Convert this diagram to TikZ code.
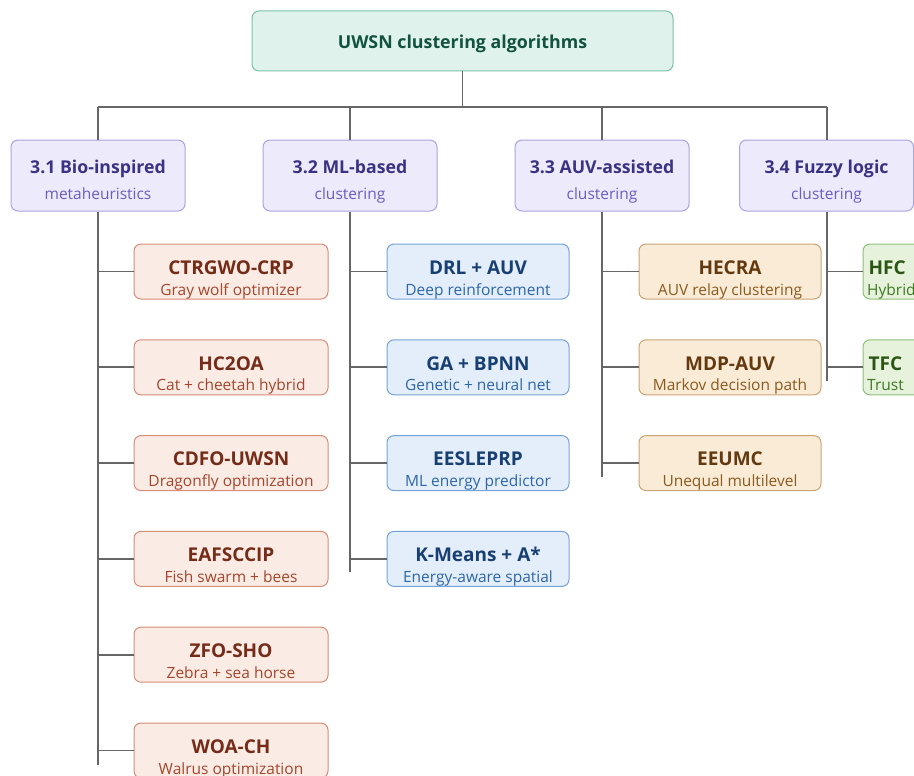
\documentclass[tikz,border=0pt]{standalone}
\usepackage{fontspec}
\setmainfont{Open Sans}
\definecolor{linegray}{HTML}{676767}
\definecolor{rootfill}{HTML}{DFF3EC}
\definecolor{rootdraw}{HTML}{79C2A6}
\definecolor{roottext}{HTML}{12523F}
\definecolor{catfill}{HTML}{EDEBFB}
\definecolor{catdraw}{HTML}{ABA3E3}
\definecolor{cattext}{HTML}{3A3283}
\definecolor{catsub}{HTML}{6A5CC2}
\definecolor{redfill}{HTML}{FAEBE5}
\definecolor{reddraw}{HTML}{D88D78}
\definecolor{redtext}{HTML}{742B17}
\definecolor{redsub}{HTML}{A4462C}
\definecolor{bluefill}{HTML}{E3EEFA}
\definecolor{bluedraw}{HTML}{74A3D8}
\definecolor{bluetext}{HTML}{173F72}
\definecolor{bluesub}{HTML}{2D66A8}
\definecolor{orfill}{HTML}{FAEBD7}
\definecolor{ordraw}{HTML}{C9A474}
\definecolor{ortext}{HTML}{633A10}
\definecolor{orsub}{HTML}{8A5A1E}
\definecolor{grfill}{HTML}{E6F2DC}
\definecolor{grdraw}{HTML}{8FC077}
\definecolor{grtext}{HTML}{2B5514}
\definecolor{grsub}{HTML}{3F7A22}
\tikzset{
  box/.style={rectangle, rounded corners=7pt, line width=1pt, inner sep=0pt},
  rootbox/.style={box, fill=rootfill, draw=rootdraw, minimum width=421pt, minimum height=60pt},
  catbox/.style={box, fill=catfill, draw=catdraw, minimum width=174pt, minimum height=71pt},
  redbox/.style={box, fill=redfill, draw=reddraw, minimum width=194pt, minimum height=55pt},
  bluebox/.style={box, fill=bluefill, draw=bluedraw, minimum width=182pt, minimum height=55pt},
  orbox/.style={box, fill=orfill, draw=ordraw, minimum width=182pt, minimum height=55pt},
  grbox/.style={box, fill=grfill, draw=grdraw, minimum width=182pt, minimum height=55pt},
  ttl/.style={inner sep=0pt, anchor=base, font=\fontsize{19}{22}\selectfont\bfseries},
  sub/.style={inner sep=0pt, anchor=base, font=\fontsize{15.5}{18}\selectfont},
  conn/.style={draw=linegray, line width=1.8pt},
}
\newcommand{\leafbox}[7]{%
  \node[#4] (#1) at (#2,#3) {};
  \node[ttl, text=#5] (#1-t) at ([yshift=-2.8pt]#1.center) {#6};
  \node[sub] (#1-s) at ([yshift=-23.5pt]#1.center) {#7};
}
\begin{document}
\begin{tikzpicture}[x=1pt,y=-1pt]
\useasboundingbox (0,0) rectangle (914,776);
\clip (0,0) rectangle (914,776);
% root
\node[rootbox] (root) at (462.5,41) {};
\node[ttl, text=roottext, font=\fontsize{17.8}{21}\selectfont\bfseries] (root-t) at ([yshift=-7.5pt]root.center) {UWSN clustering algorithms};
% bus
\coordinate (busL) at (98,107);
\coordinate (busR) at (827,107);
% categories
\node[catbox] (c1) at (98,175.5) {};
\node[catbox] (c2) at (350,175.5) {};
\node[catbox] (c3) at (602,175.5) {};
\node[catbox] (c4) at (826.5,175.5) {};
\foreach \n/\a/\b in {c1/3.1 Bio-inspired/metaheuristics, c2/3.2 ML-based/clustering, c3/3.3 AUV-assisted/clustering, c4/3.4 Fuzzy logic/clustering}{
  \node[ttl, text=cattext, font=\fontsize{17.7}{21}\selectfont\bfseries] (\n-t) at ([yshift=2.2pt]\n.center) {\a};
  \node[sub, text=catsub] (\n-s) at ([yshift=-23.5pt]\n.center) {\b};
}
% connectors top
\draw[conn] (root.south) -- (root.south |- busL);
\draw[conn] (busL) -- (busR);
\foreach \n in {c1,c2,c3}{\draw[conn] (\n.north) -- (\n.north |- busL);}
\draw[conn] (busR) -- (busR |- c4.north);
% trunk ends
\coordinate (e1) at (98,765);
\coordinate (e2) at (350,572);
\coordinate (e3) at (602,477);
\coordinate (e4) at (827,381);
\draw[conn] (c1.south) -- (e1);
\draw[conn] (c2.south) -- (e2);
\draw[conn] (c3.south) -- (e3);
\draw[conn] (c1.south -| e4) -- (e4);
% leaves col 1
\leafbox{a1}{231}{271.5}{redbox}{redtext}{CTRGWO-CRP}{\color{redsub}Gray wolf optimizer}
\leafbox{a2}{231}{367.3}{redbox}{redtext}{HC2OA}{\color{redsub}Cat + cheetah hybrid}
\leafbox{a3}{231}{463.1}{redbox}{redtext}{CDFO-UWSN}{\color{redsub}Dragonfly optimization}
\leafbox{a4}{231}{558.9}{redbox}{redtext}{EAFSCCIP}{\color{redsub}Fish swarm + bees}
\leafbox{a5}{231}{654.7}{redbox}{redtext}{ZFO-SHO}{\color{redsub}Zebra + sea horse}
\leafbox{a6}{231}{750.5}{redbox}{redtext}{WOA-CH}{\color{redsub}Walrus optimization}
% col 2
\leafbox{b1}{478}{271.5}{bluebox}{bluetext}{DRL + AUV}{\color{bluesub}Deep reinforcement}
\leafbox{b2}{478}{367.3}{bluebox}{bluetext}{GA + BPNN}{\color{bluesub}Genetic + neural net}
\leafbox{b3}{478}{463.1}{bluebox}{bluetext}{EESLEPRP}{\color{bluesub}ML energy predictor}
\leafbox{b4}{478}{558.9}{bluebox}{bluetext}{K-Means + A*}{\color{bluesub}Energy-aware spatial}
% col 3
\leafbox{d1}{730}{271.5}{orbox}{ortext}{HECRA}{\color{orsub}AUV relay clustering}
\leafbox{d2}{730}{367.3}{orbox}{ortext}{MDP-AUV}{\color{orsub}Markov decision path}
\leafbox{d3}{730}{463.1}{orbox}{ortext}{EEUMC}{\color{orsub}Unequal multilevel}
% col 4 (cut off by the frame)
\node[grbox] (g1) at (954,271.5) {};
\node[ttl, text=grtext, anchor=base west] (g1-t) at ([xshift=6pt,yshift=-2.8pt]g1.west) {HFC};
\node[sub, text=grsub, anchor=base west] (g1-s) at ([xshift=4.5pt,yshift=-23.5pt]g1.west) {Hybrid};
\node[grbox] (g2) at (954,367.3) {};
\node[ttl, text=grtext, anchor=base west] (g2-t) at ([xshift=6pt,yshift=-2.8pt]g2.west) {TFC};
\node[sub, text=grsub, anchor=base west] (g2-s) at ([xshift=4.5pt,yshift=-23.5pt]g2.west) {Trust};
% branches
\foreach \l in {a1,a2,a3,a4,a5,a6}{\draw[conn] (\l.west) -- (\l.west -| c1.south);}
\foreach \l in {b1,b2,b3,b4}{\draw[conn] (\l.west) -- (\l.west -| c2.south);}
\foreach \l in {d1,d2,d3}{\draw[conn] (\l.west) -- (\l.west -| c3.south);}
\foreach \l in {g1,g2}{\draw[conn] (\l.west) -- (\l.west -| e4);}
\end{tikzpicture}
\end{document}
